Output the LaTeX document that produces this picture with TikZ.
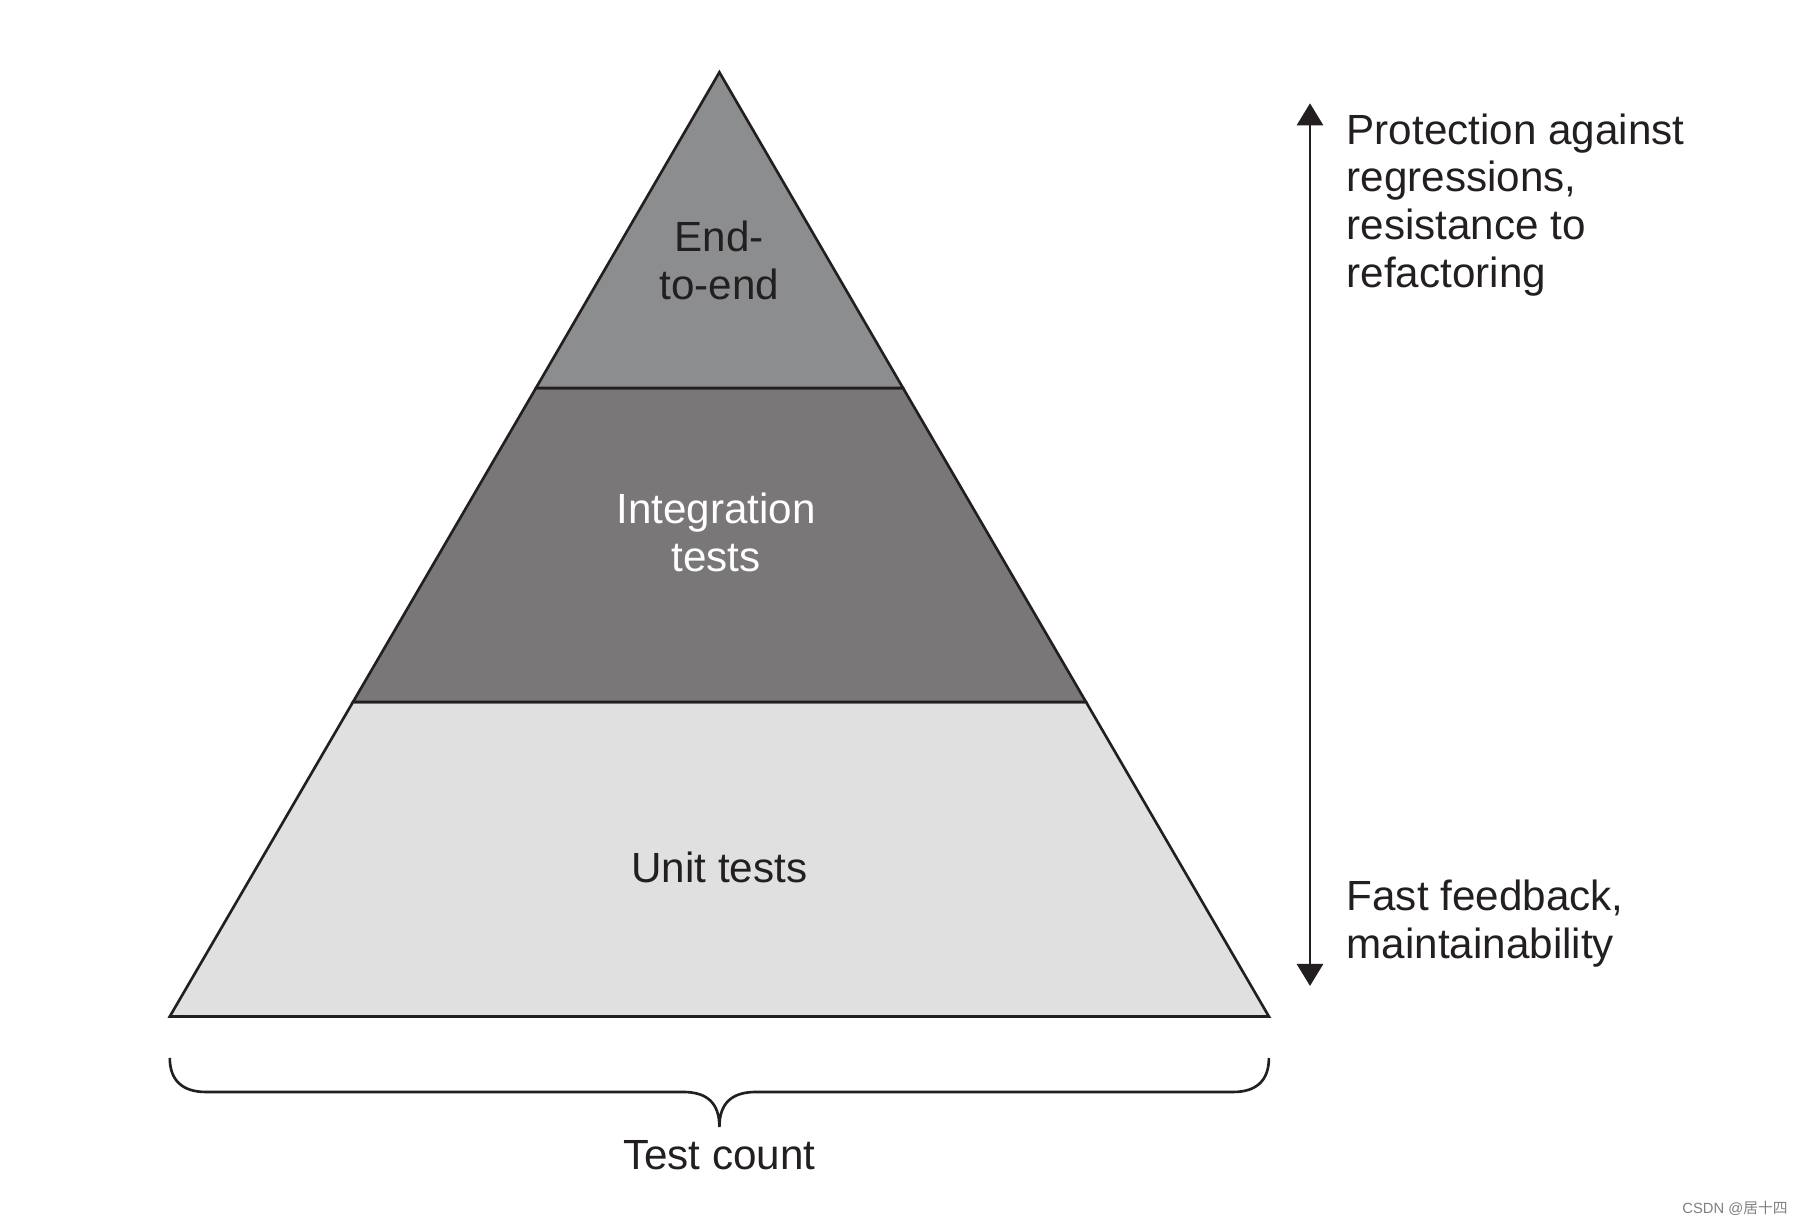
\documentclass[tikz,border=0pt]{standalone}
\usepackage{fontspec}
\setmainfont{Liberation Sans}
\newfontfamily\cjkfont{Noto Sans CJK SC}
\usepackage{tikz}
\usetikzlibrary{arrows.meta,%
                positioning}

\definecolor{inkdark}{RGB}{35,31,32}
\definecolor{topgray}{RGB}{140,141,143}
\definecolor{midgray}{RGB}{122,119,121}
\definecolor{lowgray}{RGB}{223,224,223}

\tikzset{
  layer/.style={draw=inkdark,line width=0.75pt,line join=miter},
  lbl/.style={inner sep=0pt,text=inkdark,font=\fontsize{12}{13.6}\selectfont},
  sidetext/.style={lbl,anchor=west,align=left},
  axis/.style={draw=inkdark,line width=0.8pt,
    {Triangle[width=0.26cm,length=0.22cm]}-{Triangle[width=0.26cm,length=0.22cm]}},
  countbrace/.style={draw=inkdark,line width=0.75pt}
}

\begin{document}
\begin{tikzpicture}[x=0.01cm,y=0.01cm]
\useasboundingbox (0,0) rectangle (1799,1225);

\coordinate (apex) at (719.4,1152.7);
\coordinate (tl) at (536,837);
\coordinate (tr) at (903,837);
\coordinate (ml) at (353,523);
\coordinate (mr) at (1086,523);
\coordinate (bl) at (169.8,208.5);
\coordinate (br) at (1268.9,208.5);

\filldraw[layer,fill=lowgray] (bl) -- (br) -- (mr) -- (ml) -- cycle;
\filldraw[layer,fill=midgray] (ml) -- (mr) -- (tr) -- (tl) -- cycle;
\filldraw[layer,fill=topgray] (tl) -- (tr) -- (apex) -- cycle;

\node[lbl,align=center] (e2e) at (719.4,964.8) {End-\\to-end};
\node[lbl,align=center,text=white] (integ) at (716,692.2) {Integration\\tests};
\node[lbl] (unit) at (719.4,357.3) {Unit tests};

\coordinate (axtop) at (1310,1121.7);
\coordinate (axbot) at (1310,239);
\draw[axis] (axbot) -- (axtop);

\node[sidetext] (protect) at (1346,1020) {Protection against\\regressions,\\resistance to\\refactoring};
\node[sidetext] (fast) at (1346,301) {Fast feedback,\\maintainability};

% brace under the base
\coordinate (brl) at (169.8,167);
\coordinate (brr) at (1268.9,167);
\coordinate (brtip) at (719.4,98);
\draw[countbrace] (brl) .. controls (169.8,145) and (182,133) .. (206,133)
  -- (683,133) .. controls (707,133) and (719.4,122) .. (brtip)
  .. controls (719.4,122) and (732,133) .. (756,133)
  -- (1233,133) .. controls (1257,133) and (1268.9,145) .. (brr);
\node[lbl] (count) at (719.4,70) {Test count};

\node[inner sep=0pt,text=gray,font=\fontsize{4.2}{5}\selectfont] (mark) at (1735,17) {CSDN @{\cjkfont 居十四}};
\end{tikzpicture}
\end{document}
